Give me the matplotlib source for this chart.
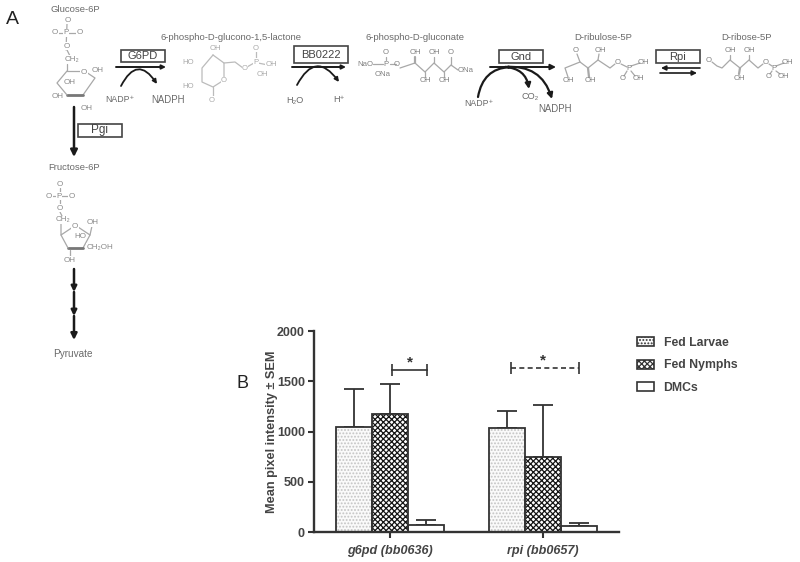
import matplotlib
matplotlib.use("Agg")
import matplotlib.pyplot as plt
from matplotlib.patches import FancyArrowPatch, Rectangle

plt.rcParams['font.family'] = ['Liberation Sans', 'DejaVu Sans']
plt.rcParams['hatch.linewidth'] = 0.9

# ---- data ----
genes = ['g6pd (bb0636)', 'rpi (bb0657)']
series = ['Fed Larvae', 'Fed Nymphs', 'DMCs']
fed_larvae = [1050, 1035]
fed_nymphs = [1175, 750]
dmcs = [70, 60]
fed_larvae_top = [1420, 1210]
fed_nymphs_top = [1470, 1265]
dmcs_top = [125, 90]
y_ticks = [0, 500, 1000, 1500, 2000]

DARK = '#333333'
GREY = '#a8a8a8'
TXT = '#6a6a6a'

fig = plt.figure(figsize=(8, 5.62), dpi=100, facecolor='white')

# ---- pathway diagram, pixel coordinates ----
d = fig.add_axes([0, 0, 1, 1], zorder=0)
d.set_xlim(0, 800)
d.set_ylim(562, 0)
d.axis('off')


def t(x, y, s, size=6.8, color=TXT, **kw):
    d.text(x, y, s, fontsize=size, color=color, ha='center', va='center', **kw)


def mol(points, lw=0.9, color=GREY):
    d.plot([p[0] for p in points], [p[1] for p in points], color=color, lw=lw,
           solid_capstyle='round', zorder=1)


def box(x0, y0, x1, y1, label, size=8):
    d.add_patch(Rectangle((x0, y0), x1 - x0, y1 - y0, fc='white', ec='#444444', lw=1.2, zorder=3))
    d.text((x0 + x1) / 2, (y0 + y1) / 2, label, fontsize=size, color='#444444',
           ha='center', va='center', zorder=4)


def arrow(p0, p1, rad=0.0, lw=1.4, ms=7):
    d.add_patch(FancyArrowPatch(p0, p1, connectionstyle=f'arc3,rad={rad}',
                                arrowstyle='-|>', mutation_scale=ms, lw=lw,
                                color='#1a1a1a', shrinkA=0, shrinkB=0, zorder=5))


t(12, 20, 'A', size=14, color='#222222')
t(242, 384, 'B', size=13, color='#222222')

# titles
t(75, 9, 'Glucose-6P')
t(74, 168, 'Fructose-6P')
t(73, 354, 'Pyruvate', size=7.2)
t(231, 37, '6-phospho-D-glucono-1,5-lactone')
t(415, 37, '6-phospho-D-gluconate')
t(603, 37, 'D-ribulose-5P')
t(747, 37, 'D-ribose-5P')

# glucose-6P
mol([(67, 24), (66, 50)]); mol([(57, 33), (78, 33)]); mol([(67, 50), (70, 56)])
mol([(67, 64), (67, 71), (80, 71)]); mol([(86, 72), (95, 78), (83, 95)])
mol([(83, 95), (67, 95)], lw=2, color='#777777'); mol([(67, 95), (57, 83), (67, 71)])
for x, y, s in [(68, 20, 'O'), (66, 33, 'P'), (55, 33, 'O'), (80, 33, 'O'), (67, 46, 'O'),
                (72, 59, 'CH₂'), (84, 72, 'O'), (98, 71, 'OH'), (70, 83, 'OH'),
                (58, 97, 'OH'), (87, 108, 'OH')]:
    d.text(x, y, s, fontsize=5.8, color='#888888', ha='center', va='center',
           bbox=dict(fc='white', ec='none', pad=0.3), zorder=2)

# fructose-6P
mol([(60, 188), (60, 204)]); mol([(51, 196), (70, 196)]); mol([(60, 212), (62, 216)])
mol([(61, 224), (61, 235), (73, 227)]); mol([(78, 227), (90, 235), (83, 248)])
mol([(83, 248), (68, 248)], lw=2, color='#777777'); mol([(68, 248), (61, 235)])
mol([(90, 235), (92, 226)]); mol([(70, 250), (70, 256)])
for x, y, s in [(60, 184, 'O'), (59, 196, 'P'), (49, 196, 'O'), (72, 196, 'O'), (60, 208, 'O'),
                (63, 220, 'CH₂'), (75, 227, 'O'), (93, 223, 'OH'), (80, 237, 'HO'),
                (100, 247, 'CH₂OH'), (70, 260, 'OH')]:
    d.text(x, y, s, fontsize=5.8, color='#888888', ha='center', va='center',
           bbox=dict(fc='white', ec='none', pad=0.3), zorder=2)

# lactone
mol([(213, 55), (224, 63), (224, 80), (213, 87), (202, 82), (202, 68), (213, 55)], color='#bbbbbb')
mol([(224, 63), (235, 62), (243, 68)], color='#bbbbbb'); mol([(247, 67), (254, 63)], color='#bbbbbb')
mol([(256, 50), (256, 60)], color='#bbbbbb'); mol([(258, 63), (268, 65)], color='#bbbbbb')
mol([(213, 87), (213, 96)], color='#bbbbbb')
for x, y, s in [(215, 49, 'OH'), (188, 62, 'HO'), (188, 87, 'HO'), (212, 100, 'O'),
                (224, 81, 'O'), (245, 68, 'O'), (256, 62, 'P'), (256, 48, 'O'),
                (271, 65, 'OH'), (262, 75, 'OH')]:
    d.text(x, y, s, fontsize=5.6, color='#aaaaaa', ha='center', va='center',
           bbox=dict(fc='white', ec='none', pad=0.2), zorder=2)

# gluconate
mol([(373, 64), (383, 64)]); mol([(390, 64), (396, 64)]); mol([(386, 57), (386, 60)])
mol([(400, 68), (415, 63), (425, 72), (434, 63), (444, 72), (451, 65), (458, 70)])
mol([(415, 63), (415, 57)], lw=1.6); mol([(434, 63), (434, 57)])
mol([(425, 72), (425, 77)]); mol([(444, 72), (444, 77)]); mol([(451, 65), (451, 57)])
for x, y, s in [(365, 64, 'NaO'), (386, 64, 'P'), (386, 53, 'O'), (383, 75, 'ONa'), (397, 65, 'O'),
                (415, 53, 'OH'), (434, 53, 'OH'), (425, 81, 'OH'), (444, 81, 'OH'),
                (451, 53, 'O'), (466, 70, 'ONa')]:
    d.text(x, y, s, fontsize=5.6, color='#808080', ha='center', va='center', zorder=2)

# ribulose
mol([(568, 77), (565, 68), (580, 62), (588, 68), (598, 60), (610, 68), (615, 64)])
mol([(580, 62), (577, 54)]); mol([(588, 68), (589, 77)], lw=1.6); mol([(598, 60), (599, 54)])
mol([(621, 64), (627, 67)]); mol([(631, 66), (640, 63)]); mol([(627, 71), (624, 76)]); mol([(631, 71), (635, 76)])
for x, y, s in [(576, 50, 'O'), (568, 81, 'OH'), (590, 81, 'OH'), (600, 50, 'OH'), (618, 62, 'O'),
                (629, 68, 'P'), (643, 62, 'OH'), (623, 79, 'O'), (638, 79, 'OH')]:
    d.text(x, y, s, fontsize=5.6, color='#808080', ha='center', va='center', zorder=2)

# ribose
mol([(712, 62), (717, 66), (722, 68), (730, 60), (740, 68), (749, 60), (758, 68), (763, 64)])
mol([(730, 60), (730, 55)]); mol([(740, 68), (739, 74)], lw=1.6); mol([(749, 60), (749, 55)])
mol([(769, 64), (772, 66)]); mol([(776, 66), (784, 63)]); mol([(772, 71), (770, 74)]); mol([(776, 71), (780, 74)])
for x, y, s in [(709, 61, 'O'), (730, 51, 'OH'), (749, 51, 'OH'), (739, 78, 'OH'), (766, 62, 'O'),
                (774, 68, 'P'), (787, 62, 'OH'), (769, 77, 'O'), (783, 77, 'OH')]:
    d.text(x, y, s, fontsize=5.6, color='#808080', ha='center', va='center', zorder=2)

# reaction boxes
box(121, 50, 165, 62, 'G6PD')
box(294, 46, 348, 63, 'BB0222')
box(78, 124, 122, 137, 'Pgi', size=8.5)
box(499, 50, 543, 63, 'Gnd')
box(656, 50, 700, 63, 'Rpi')

# reaction arrows
arrow((116, 67), (166, 67), ms=6)
arrow((121, 86), (157, 84), rad=-0.85, lw=1.3, ms=6)
arrow((292, 67), (346, 67), ms=6)
arrow((297, 85), (339, 82), rad=-0.8, lw=1.3, ms=6)
arrow((490, 67), (556, 67), ms=8)
arrow((478, 97), (512, 67), rad=-0.4, lw=1.6, ms=2)
arrow((505, 67), (529, 89), rad=-0.4, lw=1.6, ms=8)
arrow((505, 67), (552, 99), rad=-0.4, lw=1.6, ms=8)
arrow((700, 68), (661, 68), lw=1.2, ms=7)
arrow((660, 73), (697, 73), lw=1.2, ms=7)
arrow((74, 107), (74, 157), lw=1.8, ms=10)
arrow((74, 269), (74, 292), lw=1.8, ms=8)
arrow((74, 292), (74, 316), lw=1.8, ms=8)
arrow((74, 316), (74, 340), lw=1.8, ms=9)

# cofactors
t(120, 99, 'NADP⁺', size=6.3)
t(168, 100, 'NADPH', size=6.9)
t(295, 100, 'H₂O', size=6.6)
t(339, 100, 'H⁺', size=6.6)
t(479, 103, 'NADP⁺', size=6.3)
t(530, 97, 'CO₂', size=6.6)
t(555, 109, 'NADPH', size=6.9)

# ---- bar chart ----
left, right, top, bottom = 314, 619, 331, 532.3
ax = fig.add_axes([left / 800, 1 - bottom / 562, (right - left) / 800, (bottom - top) / 562],
                  zorder=2, facecolor='none')
width = 0.237
pos = range(len(genes))
styles = [dict(facecolor='#fafafa', edgecolor='#c4c4c4', hatch='.....'),
          dict(facecolor='white', edgecolor='#151515', hatch='xxxxxx'),
          dict(facecolor='white', edgecolor=DARK)]
all_vals = [fed_larvae, fed_nymphs, dmcs]
all_tops = [fed_larvae_top, fed_nymphs_top, dmcs_top]
offsets = [-width * 1.0, 0.0, width * 1.0]
handles = []
for vals, tops, off, st, name in zip(all_vals, all_tops, offsets, styles, series):
    xs = [p + off for p in pos]
    errs = [tp - v for tp, v in zip(tops, vals)]
    ax.errorbar(xs, vals, yerr=[[0] * len(vals), errs], fmt='none', ecolor=DARK,
                elinewidth=1.3, capsize=7, capthick=1.3, zorder=1)
    ax.bar(xs, vals, width=width, linewidth=0, zorder=2, **st)
    ax.bar(xs, vals, width=width, fill=False, edgecolor=DARK, linewidth=1.3, zorder=3)
    handles.append(Rectangle((0, 0), 1, 1, linewidth=1.2,
                             facecolor=st['facecolor'], edgecolor=DARK, hatch=st.get('hatch'),
                             label=name))

ax.set_xlim(-0.5, 1.5)
ax.set_ylim(0, 2000)
ax.set_xticks(list(pos))
ax.set_xticklabels(genes, fontsize=9.1, fontweight='bold', fontstyle='italic', color='#444444')
ax.set_yticks(y_ticks)
ax.set_yticklabels([str(v) for v in y_ticks], fontsize=9, fontweight='bold', color='#444444')
ax.tick_params(axis='both', length=4.5, width=1.5, color=DARK, pad=2)
ax.tick_params(axis='x', pad=5)
ax.set_ylabel('Mean pixel intensity ± SEM', fontsize=9.2, fontweight='bold', color='#444444', labelpad=-1)
for s in ['top', 'right']:
    ax.spines[s].set_visible(False)
for s in ['left', 'bottom']:
    ax.spines[s].set_linewidth(1.7)
    ax.spines[s].set_color(DARK)

# significance brackets
ax.plot([0.013, 0.243], [1610, 1610], color=DARK, lw=1.2, marker='|', ms=8, mew=1.2, clip_on=False)
ax.text(0.128, 1690, '*', fontsize=11, fontweight='bold', color=DARK, ha='center', va='center')
ax.plot([0.79, 1.237], [1630, 1630], color=DARK, lw=1.2, ls=(0, (3, 2)), clip_on=False)
ax.plot([0.79, 1.237], [1630, 1630], color=DARK, lw=0, marker='|', ms=8, mew=1.2, clip_on=False)
ax.text(1.0, 1710, '*', fontsize=11, fontweight='bold', color=DARK, ha='center', va='center')

fig.legend(handles=handles, loc='upper left', bbox_to_anchor=(627.5 / 800, 1 - 327 / 562),
           frameon=False, prop=dict(size=8.8, weight='bold'), labelcolor='#444444',
           handlelength=1.4, handleheight=0.75, handletextpad=0.75, labelspacing=0.87, borderpad=0.3)

fig.savefig('out.png', dpi=100, facecolor='white')
